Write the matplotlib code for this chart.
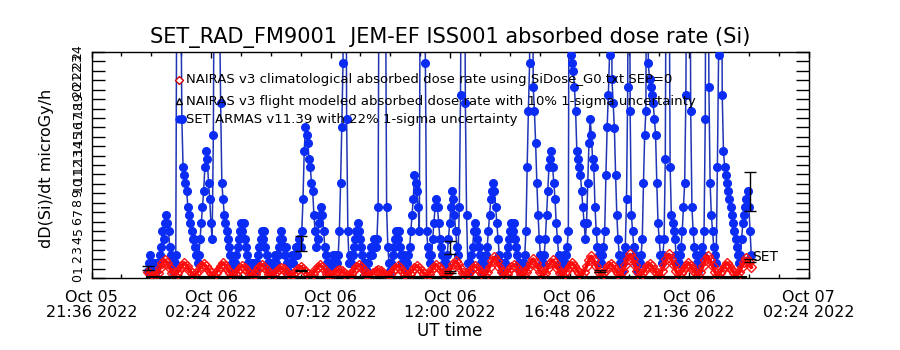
import numpy as np
import matplotlib
matplotlib.use("Agg")
import matplotlib.pyplot as plt
from datetime import datetime, timedelta

# ---------------- data ----------------
title = "SET_RAD_FM9001  JEM-EF ISS001 absorbed dose rate (Si)"
legend_labels = [
    "NAIRAS v3 climatological absorbed dose rate using SiDose_G0.txt SEP=0",
    "NAIRAS v3 flight modeled absorbed dose rate with 10% 1-sigma uncertainty",
    "SET ARMAS v11.39 with 22% 1-sigma uncertainty",
]
x_start = datetime(2022, 10, 5, 21, 36)
x_end = datetime(2022, 10, 7, 2, 24)
tick_times = [datetime(2022, 10, 5, 21, 36), datetime(2022, 10, 6, 2, 24),
              datetime(2022, 10, 6, 7, 12), datetime(2022, 10, 6, 12, 0),
              datetime(2022, 10, 6, 16, 48), datetime(2022, 10, 6, 21, 36),
              datetime(2022, 10, 7, 2, 24)]
tick_labels = ["Oct 05\n21:36 2022", "Oct 06\n02:24 2022", "Oct 06\n07:12 2022",
               "Oct 06\n12:00 2022", "Oct 06\n16:48 2022", "Oct 06\n21:36 2022",
               "Oct 07\n02:24 2022"]
y_ticks = list(range(0, 25))

set_start = datetime(2022, 10, 5, 23, 52)
set_step_min = 2.92

# SET ARMAS dose rate (microGy/h), one sample per 2.92 min
set_dose = [
    0.7, 1.6, 2.4, 1.6, 0.7, 1.6,
    1.6, 0.7, 1.6, 1.6, 2.4, 3.3, 5.0, 4.1, 5.8, 6.7, 5.8, 5.0, 3.3, 2.4, 1.6, 0.7,
    1.6, 2.4, 40, 60, 55, 35, 16.9, 11.8, 10.9, 10.1, 9.2, 7.5, 6.7, 5.8, 5.0, 4.1,
    4.1, 3.3, 2.4, 1.6, 2.4, 4.1, 5.8, 7.5, 9.2, 11.8, 13.5, 12.6, 10.1, 8.4, 5.8, 4.1,
    15.2, 45, 60, 50, 40, 30, 18.6, 10.1, 8.4, 6.7, 5.8, 5.0, 4.1, 3.3, 2.4, 1.6,
    1.6, 0.7, 1.6, 2.4, 3.3, 4.1, 5.0, 5.8, 5.0, 5.8, 4.1, 3.3, 2.4, 1.6, 0.7, 1.6,
    0.7, 1.6, 1.6, 0.7, 1.6, 2.4, 3.3, 4.1, 5.0, 4.1, 5.0, 3.3, 2.4, 1.6, 0.7, 1.6,
    1.6, 0.7, 1.6, 2.4, 1.6, 2.4, 3.3, 4.1, 5.0, 4.1, 3.3, 2.4, 3.3, 1.6, 0.7, 1.6,
    1.6, 2.4, 1.6, 2.4, 3.3, 2.4, 3.3, 4.1, 3.3, 5.0, 8.4, 13.5, 16.0, 15.2, 14.3, 12.6,
    11.8, 10.1, 9.2, 6.7, 5.0, 3.3, 4.1, 5.8, 6.7, 7.5, 6.7, 5.0, 3.3, 2.4, 1.6, 0.7,
    1.6, 0.7, 1.6, 2.4, 1.6, 2.4, 1.6, 2.4, 5.0, 10.1, 16.0, 22.8, 45, 60, 16.9, 5.0,
    1.6, 2.4, 1.6, 2.4, 3.3, 4.1, 5.0, 5.8, 5.0, 4.1, 3.3, 2.4, 1.6, 0.7, 1.6, 0.7,
    1.6, 2.4, 3.3, 2.4, 3.3, 4.1, 3.3, 4.1, 7.5, 45, 60, 55, 50, 40, 35, 7.5,
    3.3, 1.6, 0.7, 1.6, 2.4, 3.3, 4.1, 5.0, 4.1, 5.0, 3.3, 2.4, 1.6, 2.4, 1.6, 0.7,
    1.6, 2.4, 3.3, 5.0, 6.7, 8.4, 10.9, 10.1, 9.2, 7.5, 5.0, 45, 60, 55, 40, 22.8,
    5.0, 3.3, 2.4, 1.6, 2.4, 4.1, 5.8, 7.5, 8.4, 7.5, 5.8, 4.1, 3.3, 2.4, 1.6, 0.7,
    1.6, 2.4, 4.1, 5.8, 7.5, 9.2, 8.4, 6.7, 5.0, 3.3, 2.4, 7.5, 19.4, 45, 60, 50,
    18.6, 6.7, 1.6, 0.7, 1.6, 2.4, 3.3, 5.0, 5.8, 5.0, 4.1, 3.3, 2.4, 1.6, 0.7, 1.6,
    1.6, 2.4, 3.3, 5.0, 6.7, 8.4, 9.2, 10.1, 9.2, 7.5, 5.8, 4.1, 2.4, 1.6, 0.7, 1.6,
    0.7, 1.6, 2.4, 3.3, 4.1, 5.0, 5.8, 5.0, 5.8, 4.1, 3.3, 2.4, 1.6, 0.7, 1.6, 0.7,
    1.6, 2.4, 5.0, 11.8, 17.7, 22.8, 60, 55, 20.3, 17.7, 14.3, 10.1, 6.7, 4.1, 2.4, 1.6,
    1.6, 2.4, 4.1, 6.7, 9.2, 11.8, 12.6, 13.5, 11.8, 10.1, 8.4, 5.8, 4.1, 2.4, 1.6, 0.7,
    1.6, 2.4, 1.6, 2.4, 3.3, 5.0, 60, 23.7, 22.8, 22.0, 20.3, 17.7, 13.5, 12.6, 11.8, 10.9,
    9.2, 7.5, 5.8, 4.1, 5.8, 10.1, 14.3, 16.9, 15.2, 12.6, 11.8, 7.5, 5.0, 3.3, 2.4, 1.6,
    1.6, 2.4, 3.3, 5.0, 10.9, 16.0, 19.4, 23.7, 60, 21.1, 18.6, 15.9, 10.9, 6.7, 4.1, 2.4,
    1.6, 0.7, 1.6, 2.4, 3.3, 8.4, 20.3, 60, 17.7, 6.7, 5.0, 3.3, 2.4, 1.6, 0.7, 1.6,
    1.6, 2.4, 4.1, 10.1, 15.2, 17.7, 60, 22.8, 21.1, 20.3, 19.4, 18.6, 16.9, 15.2, 10.1, 5.8,
    4.1, 2.4, 1.6, 2.4, 4.1, 12.6, 45, 60, 40, 11.8, 6.7, 5.8, 5.0, 4.1, 2.4, 1.6,
    1.6, 2.4, 3.3, 5.0, 7.5, 10.1, 19.4, 45, 60, 50, 17.7, 7.5, 5.0, 3.3, 2.4, 1.6,
    0.7, 1.6, 2.4, 3.3, 2.4, 5.0, 16.9, 60, 55, 20.3, 10.1, 6.7, 5.0, 3.3, 2.4, 1.6,
    11.8, 23.7, 60, 55, 19.4, 13.5, 11.8, 10.9, 10.1, 9.2, 8.4, 7.5, 6.7, 5.8, 5.0, 4.1,
    3.3, 2.4, 1.6, 2.4, 4.1, 5.8, 6.7, 7.5, 8.4, 9.2, 7.5, 5.0, 2.4,
]

# NAIRAS climatological dose rate, one sample per 5.84 min (every 2nd SET sample)
nairas_clim = [
    0.6, 0.4, 0.3,
    0.2, 0.57, 1.05, 1.56, 1.9, 1.56, 1.05, 0.57,
    0.2, 0.51, 0.9, 1.32, 1.6, 1.32, 0.9, 0.51,
    0.2, 0.49, 0.85, 1.24, 1.5, 1.24, 0.85, 0.49,
    0.2, 0.51, 0.9, 1.32, 1.6, 1.32, 0.9, 0.51,
    0.2, 0.44, 0.75, 1.08, 1.3, 1.08, 0.75, 0.44,
    0.2, 0.46, 0.8, 1.16, 1.4, 1.16, 0.8, 0.46,
    0.2, 0.4, 0.65, 0.92, 1.1, 0.92, 0.65, 0.4,
    0.2, 0.42, 0.7, 1.0, 1.2, 1.0, 0.7, 0.42,
    0.2, 0.46, 0.8, 1.16, 1.4, 1.16, 0.8, 0.46,
    0.2, 0.35, 0.55, 0.76, 0.9, 0.76, 0.55, 0.35,
    0.2, 0.46, 0.8, 1.16, 1.4, 1.16, 0.8, 0.46,
    0.2, 0.35, 0.55, 0.76, 0.9, 0.76, 0.55, 0.35,
    0.2, 0.44, 0.75, 1.08, 1.3, 1.08, 0.75, 0.44,
    0.2, 0.44, 0.75, 1.08, 1.3, 1.08, 0.75, 0.44,
    0.2, 0.46, 0.8, 1.16, 1.4, 1.16, 0.8, 0.46,
    0.2, 0.55, 1.0, 1.48, 1.8, 1.48, 1.0, 0.55,
    0.2, 0.44, 0.75, 1.08, 1.3, 1.08, 0.75, 0.44,
    0.2, 0.64, 1.2, 1.8, 2.2, 1.8, 1.2, 0.64,
    0.2, 0.46, 0.8, 1.16, 1.4, 1.16, 0.8, 0.46,
    0.2, 0.6, 1.1, 1.64, 2.0, 1.64, 1.1, 0.6,
    0.2, 0.57, 1.05, 1.56, 1.9, 1.56, 1.05, 0.57,
    0.2, 0.51, 0.9, 1.32, 1.6, 1.32, 0.9, 0.51,
    0.2, 0.66, 1.25, 1.88, 2.3, 1.88, 1.25, 0.66,
    0.2, 0.49, 0.85, 1.24, 1.5, 1.24, 0.85, 0.49,
    0.2, 0.71, 1.35, 2.04, 2.5, 2.04, 1.35, 0.71,
    0.2, 0.49, 0.85, 1.24, 1.5, 1.24, 0.85, 0.49,
    0.2, 0.71, 1.35, 2.04, 2.5, 2.04, 1.35, 0.71,
    0.2, 0.51, 0.9, 1.32, 1.6, 1.32, 0.9, 0.51,
    0.2, 0.66, 1.25, 1.88, 2.3, 1.88, 1.25, 0.66,
    0.2, 0.51, 0.9, 1.32, 1.6, 1.32, 0.9, 0.51,
    0.2, 0.62, 1.15, 1.72, 2.1, 1.72, 1.15,
]

# NAIRAS flight modeled dose rate, one sample per 30 min
flight_start = datetime(2022, 10, 5, 23, 52)
flight_step_min = 30
nairas_flight = [0.05, 0.05, 0.05, 0.05, 0.05, 0.05, 0.05, 0.05, 0.05, 0.05,
                 0.05, 0.05, 0.05, 0.05, 0.05, 0.05, 0.05, 0.05, 0.05, 0.05,
                 0.05, 0.05, 0.05, 0.05, 0.05, 0.05, 0.05, 0.05, 0.05, 0.05,
                 0.05, 0.05, 0.05, 0.05, 0.05, 0.05, 0.05, 0.05, 0.05, 0.05,
                 0.05, 0.05, 0.05, 0.05, 0.05, 0.05, 0.05, 0.05, 0.05]

# error bars
err_times = [datetime(2022, 10, 5, 23, 52), datetime(2022, 10, 6, 6, 1),
             datetime(2022, 10, 6, 12, 0), datetime(2022, 10, 7, 0, 3)]
err_center = [1.05, 3.7, 3.2, 9.2]
err_half = [0.2, 0.8, 0.7, 2.05]
err2_times = [datetime(2022, 10, 6, 6, 1), datetime(2022, 10, 6, 12, 0),
              datetime(2022, 10, 6, 18, 1), datetime(2022, 10, 7, 0, 3)]
err2_center = [0.8, 0.65, 0.72, 1.85]
err2_half = [0.1, 0.08, 0.09, 0.18]

# ---------------- plot ----------------
set_times = [set_start + timedelta(minutes=set_step_min * i) for i in range(len(set_dose))]
clim_times = [set_start + timedelta(minutes=2 * set_step_min * i) for i in range(len(nairas_clim))]
flight_times = [flight_start + timedelta(minutes=flight_step_min * i) for i in range(len(nairas_flight))]

W, H = 900, 350
fig = plt.figure(figsize=(9, 3.5), dpi=100)
ax = fig.add_axes([91.5 / W, 1 - 278 / H, (808.5 - 91.5) / W, (278 - 52) / H])

blue_line = "#1f35b5"
blue_mark = "#0a2cf5"
ax.plot(set_times, set_dose, color=blue_line, lw=1.1, zorder=2)
ax.plot(set_times, set_dose, ls="none", marker="o", ms=5.5, color=blue_mark,
        mec=blue_mark, zorder=3)
ax.plot(clim_times, nairas_clim, color="#ff0000", lw=2.6, zorder=4)
ax.plot(clim_times, nairas_clim, ls="none", marker="D", ms=5,
        mfc="none", mec="#ff1010", mew=1.0, zorder=4)
ax.plot(flight_times, nairas_flight, color="black", lw=3, marker="^", ms=3,
        mfc="none", mec="black", zorder=5)
ax.errorbar(err_times, err_center, yerr=err_half, fmt="none", ecolor="black",
            elinewidth=1, capsize=4, capthick=1, zorder=6)
ax.errorbar(err2_times, err2_center, yerr=err2_half, fmt="none", ecolor="black",
            elinewidth=1, capsize=4, capthick=1, zorder=6)

ax.set_xlim(x_start, x_end)
ax.set_ylim(0, 24)
ax.set_xticks(tick_times)
ax.set_xticklabels(tick_labels, fontsize=11.5, linespacing=0.95)
minor = [x_start + timedelta(hours=1.2 * i) for i in range(25)]
ax.set_xticks(minor, minor=True)
ax.set_yticks(y_ticks)
ax.set_yticklabels([str(v) for v in y_ticks], fontsize=9, rotation=90, va="center")
ax.tick_params(axis="y", which="major", direction="in", length=9.5, width=1,
               left=True, right=True, pad=5)
ax.tick_params(axis="x", which="major", direction="in", length=4, width=1,
               top=True, bottom=True, pad=9)
ax.tick_params(axis="x", which="minor", direction="in", length=3, width=1,
               top=True, bottom=True)
for sp in ax.spines.values():
    sp.set_linewidth(1)

fig.text(47 / W, 1 - 168 / H, "dD(Si)/dt microGy/h", fontsize=11.5, rotation=90,
         ha="center", va="center")
fig.text(450 / W, 1 - 331 / H, "UT time", fontsize=12, ha="center", va="center")
fig.text(0.5, 1 - 38 / H, title, fontsize=15, ha="center", va="center")

# legend-like annotations
lx = 179 / W
fig.text(186 / W, 1 - 80 / H, legend_labels[0], fontsize=9.5, va="center")
fig.text(186 / W, 1 - 101 / H, legend_labels[1], fontsize=9.5, va="center")
fig.text(186 / W, 1 - 119 / H, legend_labels[2], fontsize=9.5, va="center")
fig.lines.append(plt.Line2D([lx], [1 - 80 / H], transform=fig.transFigure, marker="D",
                            ms=4, mfc="white", mec="#cc0000", ls="none"))
fig.lines.append(plt.Line2D([lx], [1 - 101 / H], transform=fig.transFigure, marker="^",
                            ms=5, mfc="white", mec="black", ls="none"))
fig.lines.append(plt.Line2D([lx], [1 - 119 / H], transform=fig.transFigure, marker="o",
                            ms=5, color=blue_mark, ls="none"))
fig.text(752 / W, 1 - 257 / H, "SET", fontsize=10, va="center")

fig.savefig("out.png", dpi=100)
